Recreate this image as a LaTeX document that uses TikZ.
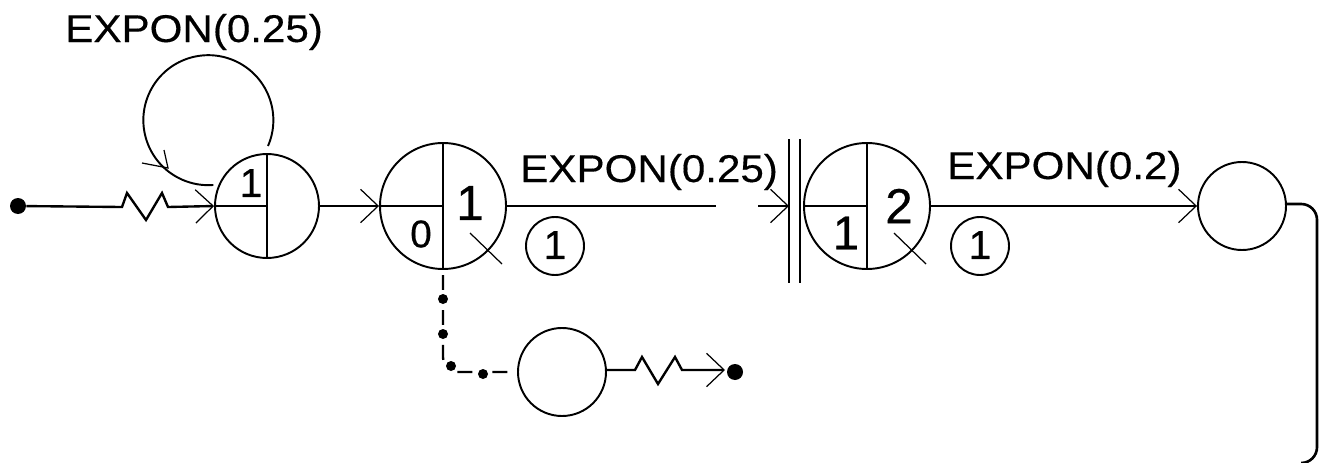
\documentclass[tikz,border=0pt]{standalone}
\usepackage{fontspec}
\setmainfont{Liberation Sans}
\newfontfamily\labfont[FakeStretch=1.09, FakeBold=0.35]{Liberation Sans}
\newfontfamily\numfont[FakeBold=0.5]{Liberation Sans}
\usetikzlibrary{arrows.meta}
\tikzset{
    queue/.style={draw, circle, line width=1.1pt, inner sep=0pt, minimum size=#1*0.02cm},
    flow/.style={line width=1.35pt},
    arrive/.style={flow, -{Straight Barb[length=10pt, width=19pt, line width=0.7pt]}},
    point/.style={fill, circle, inner sep=0pt, minimum size=#1*0.02cm},
    rate/.style={font=\labfont\fontsize{22}{24}\selectfont, anchor=base west, inner sep=0pt},
    num/.style={font=\numfont\fontsize{#1}{#1}\selectfont, inner sep=0pt},
    cut/.style={line width=0.7pt}
}

\begin{document}
\begin{tikzpicture}[x=0.02cm, y=-0.02cm]
    \useasboundingbox (0,0) rectangle (1323,463);
    % Queues
    \node[queue=104] (qa) at (267,206) {};
    \node[queue=126] (qb) at (443,206) {};
    \node[queue=126] (qc) at (867,206) {};
    \node[queue=88] (qd) at (1242,206) {};
    \node[queue=88] (qe) at (562,372) {};
    % Queue dividers
    \draw[flow] (qa.north) -- (qa.south);
    \draw[flow] (qa.west) -- (qa.center);
    \draw[flow] (qb.north) -- (qb.south);
    \draw[flow] (qb.west) -- (qb.center);
    \draw[flow] (qc.north) -- (qc.south);
    \draw[flow] (qc.west) -- (qc.center);
    % Counts in the queues
    \node[num=23] (na) at (251,183) {1};
    \node[num=22] (nb) at (421,234) {0};
    \node[num=28] (nc) at (470,203) {1};
    \node[num=27] (nd) at (846,233) {1};
    \node[num=28] (ne) at (899,206) {2};
    % Servers crossed out
    \draw[cut] (470,233) -- (502,264);
    \draw[cut] (894,233) -- (926,264);
    % Source, sink and the arrival streams
    \node[point=16] (src) at (18,206) {};
    \node[point=16] (snk) at (735,372) {};
    \draw[arrive] (src) -- (122,207) -- (127,193) -- (146,220) -- (162,193) -- (168,207) -- (qa.west);
    \draw[arrive] (qa.east) -- (qb.west);
    \draw[arrive] (qe.east) ++(0,-2) -- (635,370) -- (642,357) -- (658,384) -- (675,357) -- (682,370) -- (725,370);
    % Self loop
    \coordinate (loopa) at (268,146);
    \draw[line width=1.1pt] (loopa) arc (23.4:-274.5:65);
    \draw[cut] (142,163) -- (168,168) -- (164,150);
    % Blocking barrier
    \coordinate (bara) at (789,139);
    \coordinate (barb) at (789,283);
    \coordinate (barc) at (800,139);
    \coordinate (bard) at (800,283);
    \coordinate (bartip) at (789,206);
    \draw[flow] (bara) -- (barb);
    \draw[flow] (barc) -- (bard);
    \coordinate (gapa) at (716,206);
    \coordinate (gapb) at (758,206);
    \draw[flow] (qb.east) -- (gapa);
    \draw[arrive] (gapb) -- (bartip);
    \draw[arrive] (qc.east) -- (qd.west);
    % Balking branch
    \draw[flow, dash pattern=on 8.5pt off 11.4pt, dash phase=17pt, rounded corners=8.5pt] (qb.south) |- (qe.west);
    \node[point=10] (da) at (443,299) {};
    \node[point=10] (db) at (443,334) {};
    \node[point=10] (dc) at (451,366) {};
    \node[point=10] (dd) at (483,374) {};
    % Exit line
    \coordinate (exita) at (1317,204);
    \coordinate (exitb) at (1317,463);
    \coordinate (exitc) at (1302,463);
    \draw[line width=1.5pt, rounded corners=9pt] (qd.east) ++(0,-2) -- (exita) -- (exitb) -- (exitc);
    % Rates
    \node[rate] (ra) at (65,42) {EXPON(0.25)};
    \node[rate] (rb) at (520,182) {EXPON(0.25)};
    \node[rate] (rc) at (947,179) {EXPON(0.2)};
    % Servers
    \node[queue=58] (sa) at (555,246) {};
    \node[queue=58] (sb) at (980,246) {};
    \node[num=23] (la) at (555,245) {1};
    \node[num=23] (lb) at (980,245) {1};
\end{tikzpicture}
\end{document}
